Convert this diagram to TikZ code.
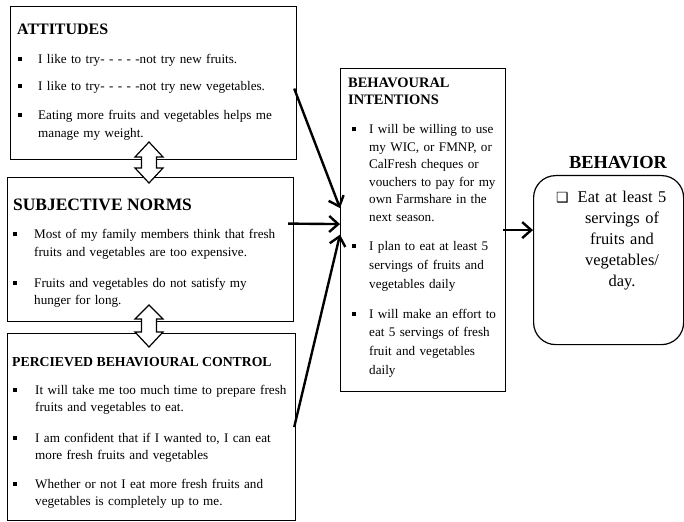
\documentclass[tikz,border=0pt]{standalone}
\usepackage{fontspec}
\setmainfont{Liberation Serif}
\newfontfamily\dingfont{DejaVu Sans}
\usetikzlibrary{arrows.meta}
\newcommand{\sqb}[1][16bp]{\leavevmode\llap{\rule[2.5bp]{4bp}{4bp}\hspace{#1}}}

\begin{document}
\begin{tikzpicture}[x=1bp,y=-1bp,
  box/.style={draw, line width=1.2bp, anchor=north west, inner sep=0pt},
  head/.style={anchor=base west, inner sep=0pt, font=\bfseries\fontsize{#1}{18}\selectfont},
  item/.style={anchor=base west, inner sep=0pt, text width=270bp, align=left,
    font=\fontsize{13.2}{#1}\selectfont},
  arr/.style={line width=2.4bp, -{Straight Barb[length=9bp,width=16bp]}},
  dbl/.style={draw, line width=1.2bp, fill=white, line join=miter}]
\useasboundingbox (0,0) rectangle (684,522);
% boxes
\node[box, minimum width=286bp, minimum height=153bp] (att) at (10,6) {};
\node[box, minimum width=286bp, minimum height=144bp] (sub) at (7,177) {};
\node[box, minimum width=288bp, minimum height=187bp] (perc) at (7,333) {};
\node[box, minimum width=165bp, minimum height=323bp] (int) at (340,68) {};
\node[box, minimum width=150bp, minimum height=169bp, rounded corners=22bp] (beh) at (533,175) {};
% attitudes
\node[head=16] (atttitle) at (17,35) {ATTITUDES};
\node[item=18] (att1) at (38,64) {\sqb[16bp]I like to try- - - - -not try new fruits.};
\node[item=18] (att2) at (38,91) {\sqb[16bp]I like to try- - - - -not try new vegetables.};
\node[item=18] (att3) at (38,120) {\sqb[16bp]Eating more fruits and vegetables helps me\\manage my weight.};
% subjective norms
\node[head=17.5] (subtitle) at (13,211) {SUBJECTIVE NORMS};
\node[item=17.5] (sub1) at (34,239) {\sqb[17bp]Most of my family members think that fresh\\fruits and vegetables are too expensive.};
\node[item=17.5] (sub2) at (34,287) {\sqb[17bp]Fruits and vegetables do not satisfy my\\hunger for long.};
% perceived control
\node[head=13.8] (perctitle) at (12,366) {PERCIEVED BEHAVIOURAL CONTROL};
\node[item=17.5] (perc1) at (35,394) {\sqb[18bp]It will take me too much time to prepare fresh\\fruits and vegetables to eat.};
\node[item=17.5] (perc2) at (35,442) {\sqb[18bp]I am confident that if I wanted to, I can eat\\more fresh fruits and vegetables};
\node[item=17.5] (perc3) at (35,488) {\sqb[18bp]Whether or not I eat more fresh fruits and\\vegetables is completely up to me.};
% intentions
\node[head=14.5, align=left] (inttitle) at (348,105) {BEHAVOURAL\\INTENTIONS};
\node[item=17.5] (int1) at (369,134) {\sqb[13bp]I will be willing to use\\my WIC, or FMNP, or\\CalFresh cheques or\\vouchers to pay for my\\own Farmshare in the\\next season.};
\node[item=19] (int2) at (369,251) {\sqb[13bp]I plan to eat at least 5\\servings of fruits and\\vegetables daily};
\node[item=19] (int3) at (369,318) {\sqb[13bp]I will make an effort to\\eat 5 servings of fresh\\fruit and vegetables\\daily};
% behavior
\node[anchor=base, inner sep=0pt, font=\bfseries\fontsize{18.5}{20}\selectfont] (behtitle) at (618,169) {BEHAVIOR};
\node[anchor=base west, inner sep=0pt, font=\dingfont\fontsize{14}{14}\selectfont] (chk) at (556,203) {❑};
\node[anchor=base, inner sep=0pt, text width=120bp, align=center, font=\fontsize{16.5}{21}\selectfont] (behtext) at (622,203) {Eat at least 5\\servings of\\fruits and\\vegetables/\\day.};
% arrows
\draw[arr] ([xshift=-3bp,yshift=-5.5bp]att.east) -- ([yshift=22bp]int.west);
\draw[arr] ([xshift=-6bp,yshift=26bp]sub.east) -- ([yshift=6bp]int.west);
\draw[arr] ([xshift=-2bp]perc.east) -- ([yshift=-4.5bp]int.west);
\draw[arr] ([xshift=-3bp]int.east) -- (int.east -| beh.west);
\draw[dbl] (149,142) -- (163,157) -- (156.5,157) -- (156.5,168) -- (163,168) -- (149,183)
  -- (135,168) -- (141.5,168) -- (141.5,157) -- (135,157) -- cycle;
\draw[dbl] (149,305) -- (163,319) -- (156.5,319) -- (156.5,332) -- (163,332) -- (149,347)
  -- (135,332) -- (141.5,332) -- (141.5,319) -- (135,319) -- cycle;
\end{tikzpicture}
\end{document}
